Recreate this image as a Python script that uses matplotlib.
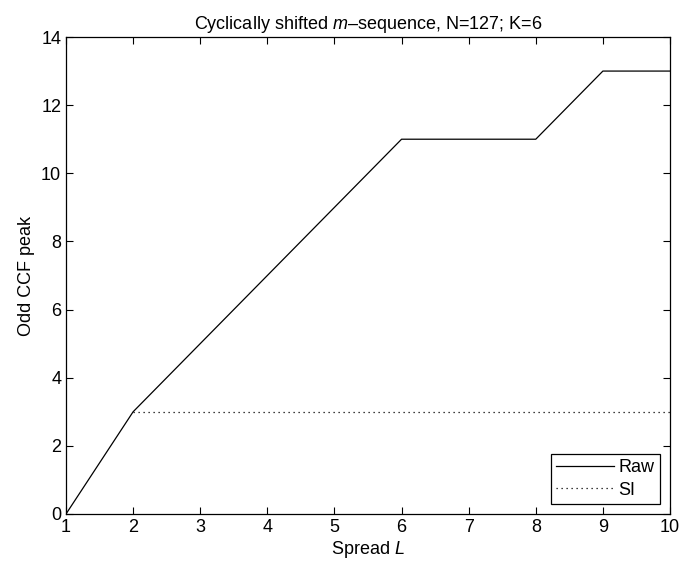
import matplotlib
matplotlib.use('Agg')
import matplotlib.pyplot as plt

plt.rcParams['font.family'] = ['Liberation Sans', 'DejaVu Sans']
plt.rcParams['mathtext.fontset'] = 'custom'
plt.rcParams['mathtext.it'] = 'Liberation Sans:italic'
plt.rcParams['mathtext.rm'] = 'Liberation Sans'

spread = [1, 2, 3, 4, 5, 6, 7, 8, 9, 10]
raw = [0, 3, 5, 7, 9, 11, 11, 11, 13, 13]
spread_si = [2, 3, 4, 5, 6, 7, 8, 9, 10]
si = [3, 3, 3, 3, 3, 3, 3, 3, 3]

fig = plt.figure(figsize=(6.81, 5.62), dpi=100)
ax = fig.add_axes([66/681, 1-514/562, 604/681, 477/562])

ax.plot(spread, raw, color='black', lw=0.9, label='Raw')
ax.plot(spread_si, si, color='black', lw=0.9, linestyle=(0, (1, 3)), label='SI')

ax.set_xlim(1, 10)
ax.set_ylim(0, 14)
ax.set_xticks(range(1, 11))
ax.set_yticks(range(0, 15, 2))
ax.tick_params(direction='in', top=True, right=True, labelsize=13, length=5, width=0.8)
for s in ax.spines.values():
    s.set_linewidth(0.9)

ax.set_title('Cyclically shifted $m$\u2013sequence, N=127; K=6', fontsize=13)
ax.set_xlabel('Spread $L$', fontsize=13, labelpad=2)
ax.set_ylabel('Odd CCF peak', fontsize=13)

leg = ax.legend(loc='lower right', fontsize=13, fancybox=False, framealpha=1,
                edgecolor='black', handlelength=3.2, handletextpad=0.25,
                borderpad=0.3, labelspacing=0.3, borderaxespad=0.55)
leg.get_frame().set_linewidth(0.9)

fig.savefig('out.png', dpi=100)
